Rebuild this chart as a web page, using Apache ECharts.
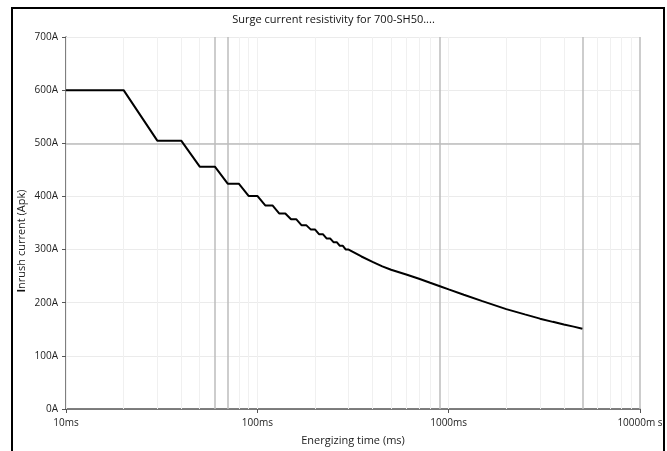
<!DOCTYPE html>
<html>
<head>
<meta charset="utf-8">
<script src="https://cdn.jsdelivr.net/npm/echarts@6/dist/echarts.min.js"></script>
<style>html,body{margin:0;padding:0;background:#fff;}#c{width:667px;height:451px;}</style>
</head>
<body>
<div id="c"></div>
<script>
// Energizing time (ms) and inrush current (A)
var times = [10,20,30,40,50,60,70,80,90,100,110,120,130,140,150,160,170,180,190,200,210,220,230,240,250,260,270,280,290,300,350,400,450,500,600,700,800,900,1000,1200,1500,2000,2500,3000,3500,4000,4500,5000];
var currents = [600,600,505,505,456,456,424,424,401,401,383,383,368,368,357,357,346,346,338,338,329,329,321,321,314,314,307,307,300,300,287,277,268.5,262,253,245,237.5,231,225,215,203,188,178,170,164,159,155,151];

var xTickValues = [10,100,1000,10000];
var xTickLabels = ['10ms','100ms','1000ms','10000m s'];
var yTickValues = [0,100,200,300,400,500,600,700];
var yTickLabels = ['0A','100A','200A','300A','400A','500A','600A','700A'];

var lightVLines = [10,20,30,40,50,80,90,100,200,300,400,500,600,700,800,1000,2000,3000,4000,6000,7000,8000,9000];
var darkVLines = [60,70,900,5000,10000];
var darkHLines = [500];

var titleText = 'Surge current resistivity for 700-SH50....';
var xName = 'Energizing time (ms)';
var yName = 'Inrush current (Apk)';

var FONT = '"Open Sans", sans-serif';
var chart = echarts.init(document.getElementById('c'), null, {renderer:'canvas'});
var lineData = times.map(function(t,i){return [t, currents[i]];});

chart.setOption({
  animation:false,
  backgroundColor:'#fff',
  title:{text:titleText,left:'center',top:9,textStyle:{fontFamily:FONT,fontSize:11,fontWeight:'normal',color:'#111'}},
  grid:{left:66,right:27,top:37,bottom:39},
  xAxis:{type:'log',logBase:10,min:10,max:10000,
    axisLine:{show:true,onZero:false,lineStyle:{color:'#555',width:1.5}},
    axisTick:{show:true,length:4,lineStyle:{color:'#555'}},
    axisLabel:{margin:9,fontFamily:FONT,fontSize:10,color:'#222',
      formatter:function(v){var i=xTickValues.indexOf(Math.round(v));return i>=0?xTickLabels[i]:'';}},
    splitLine:{show:false},
    name:xName,nameLocation:'middle',nameGap:26,
    nameTextStyle:{fontFamily:FONT,fontSize:11,color:'#222'}
  },
  yAxis:{type:'value',min:0,max:700,interval:100,
    axisLine:{show:true,lineStyle:{color:'#555',width:1.5}},
    axisTick:{show:true,length:4,lineStyle:{color:'#555'}},
    axisLabel:{margin:8,fontFamily:FONT,fontSize:10,color:'#222',
      formatter:function(v){var i=yTickValues.indexOf(v);return i>=0?yTickLabels[i]:'';}},
    splitLine:{show:true,lineStyle:{color:'#ebebeb',width:1}}
  },
  graphic:[
    {type:'rect',shape:{x:12,y:8,width:652,height:460},style:{fill:'none',stroke:'#000',lineWidth:2},silent:true,z:-1},
    {type:'text',x:22,y:241,rotation:Math.PI/2,
      style:{text:'{b|I}nrush current (Apk)',rich:{b:{fontWeight:'bold',fontFamily:FONT,fontSize:11,fill:'#111'}},
      font:'11px "Open Sans", sans-serif',fill:'#222',align:'center',verticalAlign:'middle'}}
  ],
  series:[
    {type:'line',data:[],silent:true,z:1,
      markLine:{silent:true,symbol:'none',label:{show:false},animation:false,
        lineStyle:{color:'#f0f0f0',width:1,type:'solid'},
        data:lightVLines.map(function(v){return {xAxis:v};})}},
    {type:'line',data:[],silent:true,z:2,
      markLine:{silent:true,symbol:'none',label:{show:false},animation:false,
        lineStyle:{color:'#bdbdbd',width:1.5,type:'solid'},
        data:darkVLines.map(function(v){return {xAxis:v};}).concat(darkHLines.map(function(v){return {yAxis:v};}))}},
    {type:'line',data:lineData,showSymbol:false,symbol:'none',z:5,
      lineStyle:{color:'#000',width:2},clip:true}
  ]
});
</script>
</body>
</html>
